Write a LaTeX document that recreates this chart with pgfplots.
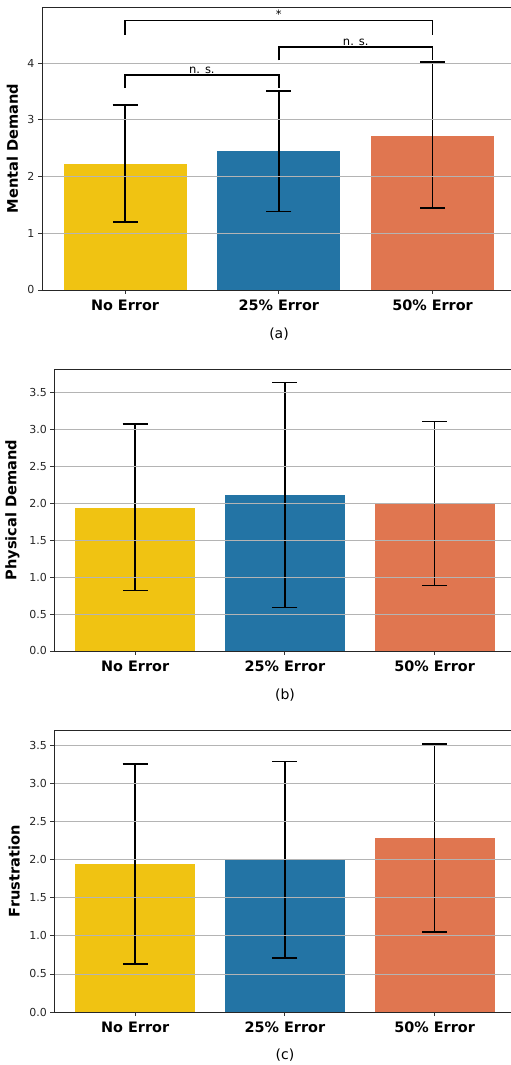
\documentclass[border=0pt]{standalone}
\usepackage{fontspec}
\setmainfont{DejaVu Sans}
\usepackage{pgfplots}
\pgfplotsset{compat=1.18}
\definecolor{cyel}{RGB}{240,195,18}
\definecolor{cblu}{RGB}{35,116,165}
\definecolor{corg}{RGB}{224,118,80}
\definecolor{cgrid}{RGB}{180,180,180}
\definecolor{ctick}{RGB}{38,38,38}
\pgfplotsset{
  myaxis/.style={
    scale only axis,
    xmin=-0.54, xmax=2.51, ymin=0,
    xtick={0,1,2}, xticklabels={No Error,25\% Error,50\% Error},
    axis x line=box, axis y line=left,
    axis line style={-, line width=0.9pt, color=black!85},
    xtick pos=left, ytick pos=left,
    tick align=outside, major tick length=4pt,
    tick style={line width=0.8pt, color=black!80},
    ymajorgrids, grid style={cgrid, line width=0.8pt},
    axis on top,
    /pgf/number format/assume math mode=true,
    yticklabel style={font=\fontsize{11}{13}\selectfont, text=ctick},
    xticklabel style={font=\bfseries\fontsize{14.4}{16}\selectfont, text=black, yshift=-2pt},
    ylabel style={font=\bfseries\fontsize{14.6}{16}\selectfont, anchor=center},
    clip=false,
  },
  mybar/.style={ybar, bar width=0.8, bar shift=0pt, draw=none, fill=#1,
    error bars/.cd, y dir=both, y explicit,
    error bar style={line width=1.6pt, black},
    error mark options={rotate=90, mark size=12.5pt, line width=1.5pt, black}},
}
\begin{document}
\begin{tikzpicture}
\path[use as bounding box] (0,0) rectangle (511pt,1065pt);
% (a)
\begin{axis}[myaxis, at={(42pt,775pt)}, anchor=south west, width=469pt, height=283pt,
  ymax=4.99, ytick={0,1,2,3,4}, ylabel={Mental Demand},
  ylabel style={at={(axis description cs:-0.063,0.5)}}]
\addplot[mybar=cyel] coordinates {(0,2.22) += (0,1.04) -= (0,1.02)};
\addplot[mybar=cblu] coordinates {(1,2.45) += (0,1.06) -= (0,1.07)};
\addplot[mybar=corg] coordinates {(2,2.72) += (0,1.30) -= (0,1.27)};
\addplot[black, line width=1.6pt, sharp plot, mark=none] coordinates {(0,3.56) (0,3.79) (1,3.79) (1,3.56)};
\addplot[black, line width=1.6pt, sharp plot, mark=none] coordinates {(1,4.05) (1,4.28) (2,4.28) (2,4.05)};
\addplot[black, line width=1.6pt, sharp plot, mark=none] coordinates {(0,4.50) (0,4.75) (2,4.75) (2,4.50)};
\node[font=\fontsize{11.5}{13}\selectfont, anchor=south, inner sep=1.5pt] at (axis cs:0.5,3.79) {n. s.};
\node[font=\fontsize{11.5}{13}\selectfont, anchor=south, inner sep=1.5pt] at (axis cs:1.5,4.28) {n. s.};
\node[font=\fontsize{11.5}{13}\selectfont, anchor=south, inner sep=1.5pt] at (axis cs:1,4.75) {*};
\end{axis}
\node[font=\fontsize{14}{16}\selectfont] at (279pt,731pt) {(a)};
% (b)
\begin{axis}[myaxis, at={(54.3pt,414pt)}, anchor=south west, width=456.7pt, height=281.7pt,
  ymax=3.82, ytick={0,0.5,...,3.5}, ylabel={Physical Demand},
  yticklabel style={/pgf/number format/.cd, fixed, fixed zerofill, precision=1},
  ylabel style={at={(axis description cs:-0.0915,0.5)}}]
\addplot[mybar=cyel] coordinates {(0,1.945) += (0,1.135) -= (0,1.125)};
\addplot[mybar=cblu] coordinates {(1,2.11) += (0,1.53) -= (0,1.52)};
\addplot[mybar=corg] coordinates {(2,2.00) += (0,1.11) -= (0,1.11)};
\end{axis}
\node[font=\fontsize{14}{16}\selectfont] at (285pt,370pt) {(b)};
% (c)
\begin{axis}[myaxis, at={(54.3pt,53pt)}, anchor=south west, width=456.7pt, height=281.7pt,
  ymax=3.70, ytick={0,0.5,...,3.5}, ylabel={Frustration},
  yticklabel style={/pgf/number format/.cd, fixed, fixed zerofill, precision=1},
  ylabel style={at={(axis description cs:-0.088,0.5)}}]
\addplot[mybar=cyel] coordinates {(0,1.94) += (0,1.32) -= (0,1.31)};
\addplot[mybar=cblu] coordinates {(1,2.00) += (0,1.29) -= (0,1.29)};
\addplot[mybar=corg] coordinates {(2,2.28) += (0,1.24) -= (0,1.23)};
\end{axis}
\node[font=\fontsize{14}{16}\selectfont] at (285pt,10pt) {(c)};
\end{tikzpicture}
\end{document}
